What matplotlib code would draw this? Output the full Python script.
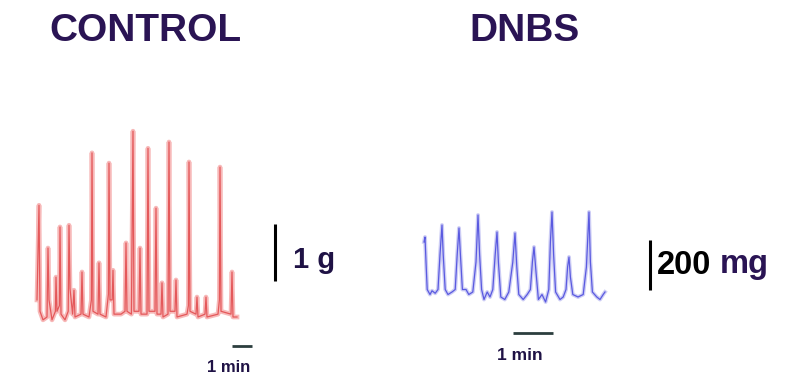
import matplotlib
matplotlib.use("Agg")
import matplotlib.pyplot as plt

# ---------------- data ----------------
# CONTROL trace: time (min) and force (g)
control_t = [0.0, 0.1, 0.15, 0.3, 0.5, 0.55, 0.6, 0.75, 0.92, 0.95, 1.0, 1.12, 1.15, 1.2,
             1.4, 1.56, 1.6, 1.65, 1.78, 1.85, 1.9, 2.2, 2.25, 2.3, 2.6, 2.72, 2.75, 2.8,
             3.05, 3.1, 3.15, 3.45, 3.57, 3.6, 3.65, 3.76, 3.8, 3.85, 4.2, 4.4, 4.45, 4.5,
             4.72, 4.8, 4.85, 5.1, 5.15, 5.2, 5.5, 5.55, 5.6, 5.9, 5.95, 6.0, 6.2, 6.25,
             6.3, 6.55, 6.6, 6.65, 6.9, 6.95, 7.0, 7.5, 7.57, 7.6, 7.65, 7.95, 8.0, 8.05,
             8.4, 8.45, 8.5, 9.05, 9.12, 9.15, 9.2, 9.7, 9.75, 9.8, 10.0]
control_g = [0.3, 1.96, 0.1, -0.05, 0.0, 1.21, 0.3, -0.05, 0.1, 0.70, 0.1, 0.2, 1.58, 0.05,
             -0.05, 0.1, 1.61, 0.5, 0.05, 0.47, 0.0, 0.05, 0.79, 0.05, 0.0, 0.3, 2.88, 0.1,
             0.05, 0.95, 0.05, 0.0, 0.4, 2.70, 0.3, 0.3, 0.82, 0.05, 0.05, 0.1, 1.30, 0.1,
             0.05, 3.26, 0.1, 0.1, 1.21, 0.05, 0.05, 2.96, 0.1, 0.1, 1.91, 0.05, 0.05, 0.60,
             0.0, 0.05, 3.07, 0.1, 0.1, 0.65, 0.0, 0.05, 0.2, 2.72, 0.1, 0.05, 0.35, 0.0,
             0.05, 0.35, 0.0, 0.05, 0.3, 2.63, 0.1, 0.05, 0.79, 0.0, 0.0]

# DNBS trace: time (min) and force (mg)
dnbs_t = [0.1, 0.125, 0.15, 0.18, 0.25, 0.3, 0.38, 0.45, 0.5, 0.55, 0.58, 0.63, 0.7, 0.8,
          0.88, 0.93, 0.975, 1.01, 1.06, 1.15, 1.22, 1.32, 1.4, 1.45, 1.49, 1.54, 1.6, 1.68,
          1.75, 1.82, 1.88, 1.925, 1.96, 2.02, 2.12, 2.22, 2.32, 2.375, 2.42, 2.47, 2.58,
          2.68, 2.76, 2.81, 2.85, 2.9, 2.96, 3.05, 3.14, 3.22, 3.26, 3.3, 3.34, 3.39, 3.5,
          3.58, 3.65, 3.69, 3.725, 3.76, 3.82, 3.95, 4.08, 4.16, 4.225, 4.26, 4.31, 4.42,
          4.5, 4.58, 4.625]
dnbs_mg = [200, 220, 120, 10, -10, 5, -5, 10, 150, 268, 150, 10, -10, 0,
           10, 150, 256, 150, 10, 10, -10, 0, 120, 308, 150, 10, -30, 0,
           -20, 10, 150, 240, 120, -20, -30, 0, 120, 236, 100, -10, -30,
           -10, 10, 120, 180, 80, -30, -10, -40, 10, 200, 320, 150, 0, -30,
           -20, 10, 100, 140, 60, -10, -20, -10, 100, 320, 120, 0, -20,
           -30, -10, 0]

titles = ["CONTROL", "DNBS"]
control_scale_g = 1.0      # vertical scale bar (g)
dnbs_scale_mg = 200.0      # vertical scale bar (mg)
time_scale_min = 1.0       # horizontal scale bar (min)

# ---------------- figure ----------------
W, H = 794, 387
fig = plt.figure(figsize=(W / 100, H / 100), dpi=100)
fig.patch.set_facecolor("white")
plt.rcParams['font.family'] = ['Liberation Sans', 'DejaVu Sans']

def px_axes(x0, x1, ytop, ybot):
    return fig.add_axes([x0 / W, 1 - ybot / H, (x1 - x0) / W, (ybot - ytop) / H])

purple = "#2a1454"
navy = "#1f1245"
barcol = "#2c3e3e"

# CONTROL panel: 20 px per min, 57 px per g, baseline at y=317
ax1 = px_axes(37, 237, 317 - 3.3 * 57, 317)
ax1.set_xlim(0, 10)
ax1.set_ylim(0, 3.3)
ax1.plot(control_t, control_g, color="#f7b9b9", lw=3.4, solid_joinstyle="round", clip_on=False)
ax1.plot(control_t, control_g, color="#e4585a", lw=0.9, clip_on=False)
ax1.plot([11.9, 11.9], [0.63, 0.63 + control_scale_g], color="black", lw=2.2, clip_on=False,
         solid_capstyle="butt")
ax1.text(12.8, 1.0, "1 g", color=navy, fontsize=21, fontweight="bold", ha="left", va="center",
         clip_on=False)
ax1.plot([9.75, 9.75 + time_scale_min], [-0.51, -0.51], color=barcol, lw=2, clip_on=False,
         solid_capstyle="butt")
ax1.text(9.6, -0.89, "1 min", color=navy, fontsize=12, fontweight="bold", ha="center",
         va="center", clip_on=False)
ax1.axis("off")

# DNBS panel: 40 px per min, 4 mg per px, baseline at y=292
ax2 = px_axes(420, 420 + 4.7 * 40, 292 - 340 / 4, 292 + 40 / 4)
ax2.set_xlim(0, 4.7)
ax2.set_ylim(-40, 340)
ax2.plot(dnbs_t, dnbs_mg, color="#cdcdf5", lw=2.8, clip_on=False)
ax2.plot(dnbs_t, dnbs_mg, color="#5a5ae0", lw=0.9, clip_on=False)
ax2.plot([5.75, 5.75], [8, 8 + dnbs_scale_mg], color="black", lw=2.2, clip_on=False,
         solid_capstyle="butt")
ax2.text(5.93, 108, "200", color="black", fontsize=23.5, fontweight="bold", ha="left",
         va="center", clip_on=False)
ax2.text(7.5, 108, "mg", color=purple, fontsize=23.5, fontweight="bold", ha="left",
         va="center", clip_on=False)
ax2.plot([2.33, 2.33 + time_scale_min], [-164, -164], color=barcol, lw=2, clip_on=False,
         solid_capstyle="butt")
ax2.text(2.5, -252, "1 min", color=navy, fontsize=12.5, fontweight="bold", ha="center",
         va="center", clip_on=False)
ax2.axis("off")

fig.text(145 / W, 1 - 31 / H, titles[0], color=purple, fontsize=28, fontweight="bold",
         ha="center", va="center")
fig.text(525 / W, 1 - 31 / H, titles[1], color=purple, fontsize=28, fontweight="bold",
         ha="center", va="center")

fig.savefig("out.png", dpi=100, facecolor="white")
